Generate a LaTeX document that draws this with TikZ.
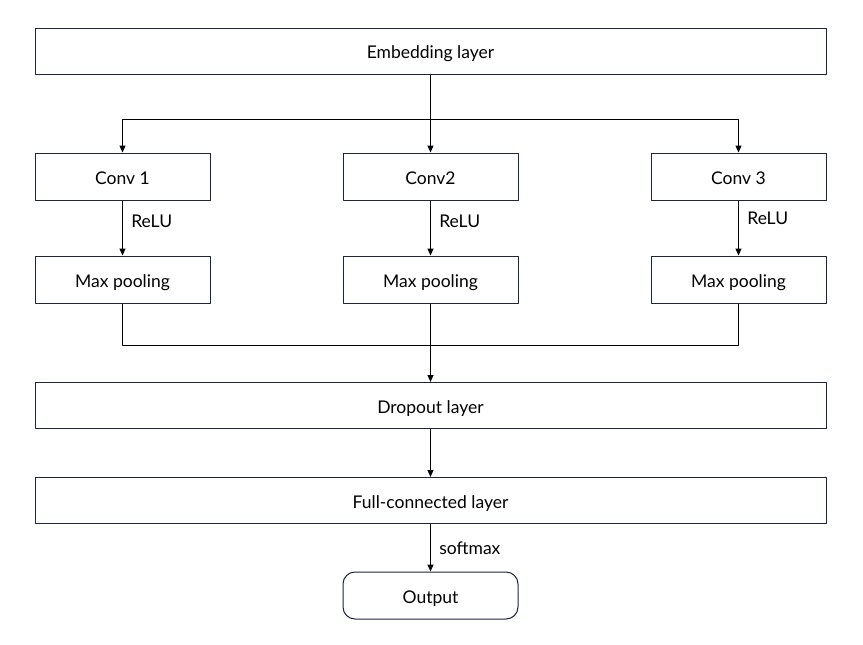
\documentclass[tikz,border=0pt]{standalone}
\usepackage{fontspec}
\setmainfont{Lato}
\usetikzlibrary{arrows.meta,positioning}
\definecolor{boxline}{RGB}{28,36,66}
\begin{document}
\begin{tikzpicture}[x=1pt,y=-1pt,line join=round,>={Triangle[length=7pt,width=6pt]},line width=1pt]
			\tikzset{every node/.style={font=\fontsize{17.5}{19}\selectfont},
				box/.style={draw=boxline,inner sep=0pt,text height=15.5pt,text depth=0pt},
				wide/.style={box,minimum width=791pt,minimum height=46pt},
				small/.style={box,minimum width=175pt,minimum height=47pt}}
			\useasboundingbox (0,0) rectangle (863,645);
			\node[wide] (emb) at (430.5,51) {Embedding layer};
			\node[small] (conva) at (122.5,176.5) {Conv 1};
			\node[small] (convb) at (430.5,176.5) {Conv2};
			\node[small] (convc) at (738.5,176.5) {Conv 3};
			\foreach \n/\x in {a/122.5,b/430.5,c/738.5}
			\node[small] (pool\n) at (\x,279.5) {Max pooling};
			\node[wide] (drop) at (430.5,405.5) {Dropout layer};
			\node[wide] (full) at (430.5,500.5) {Full-connected layer};
			\node[small,rounded corners=12pt] (out) at (430.5,595.5) {Output};
			\coordinate (split) at (430.5,119);
			\coordinate (merge) at (430.5,345);
			\draw (emb.south)--(split);
			\draw[->] (split)-|(conva.north);
			\draw[->] (split)-|(convc.north);
			\draw[->] (split)--(convb.north);
			\draw[->] (conva.south)--(poola.north) node[midway,right=5pt,yshift=7pt] {ReLU};
			\draw[->] (convb.south)--(poolb.north) node[midway,right=5pt,yshift=7pt] {ReLU};
			\draw[->] (convc.south)--(poolc.north) node[midway,right=5pt,yshift=10pt] {ReLU};
			\draw (poola.south)|-(merge);
			\draw (poolc.south)|-(merge);
			\draw (poolb.south)--(merge);
			\draw[->] (merge)--(drop.north);
			\draw[->] (drop.south)--(full.north);
			\draw[->] (full.south)--(out.north) node[midway,right=5pt] {softmax};
		\end{tikzpicture}
\end{document}
